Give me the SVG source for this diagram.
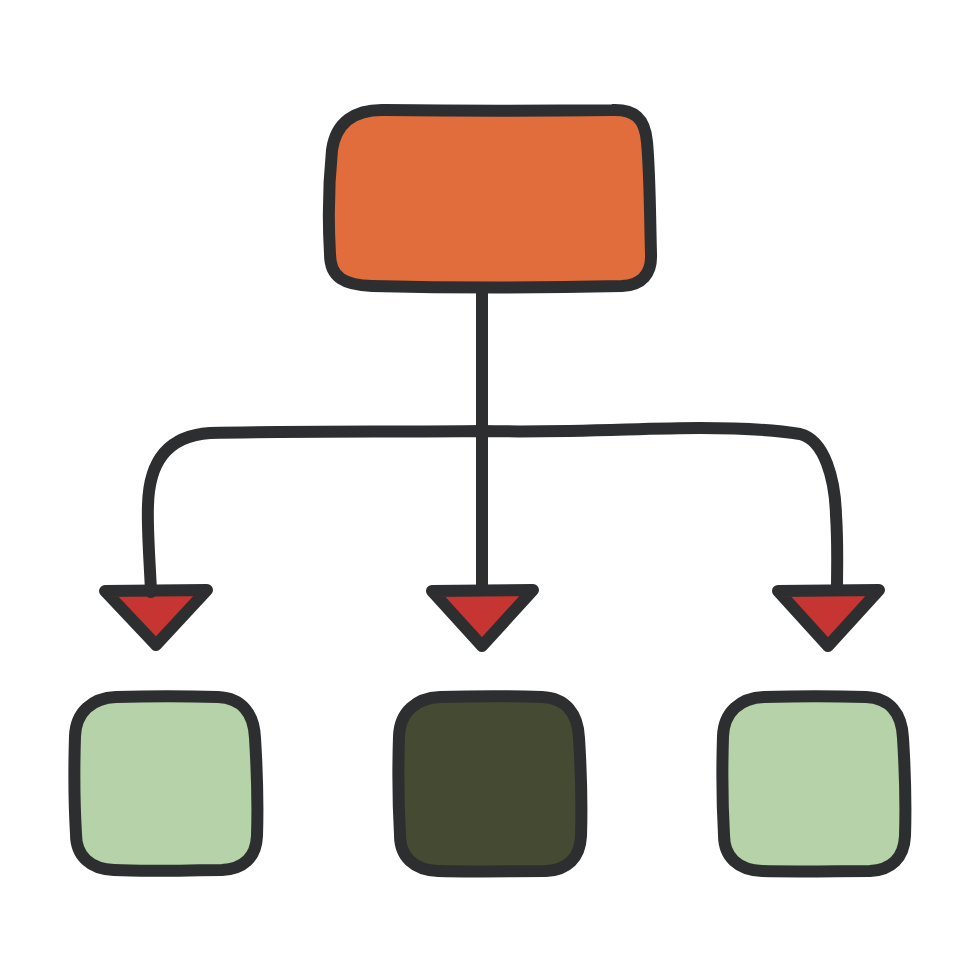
<svg xmlns="http://www.w3.org/2000/svg" width="980" height="980" viewBox="0 0 980 980">
<style>
.o{stroke:#2d2e30;stroke-width:12;stroke-linejoin:round;stroke-linecap:round}
.c{fill:none;stroke:#2d2e30;stroke-width:12;stroke-linecap:round;stroke-linejoin:round}
.a{fill:#c73532}
</style>
<rect width="980" height="980" fill="#fff"/>
<g id="root"><path class="o" fill="#e06d3b" d="M385 110C460 111 540 111 612 110C634 109 645 118 647 142C650 175 650 220 651 254C652 274 642 285 622 286C540 288 450 288 372 286C345 285 330 278 330 254C328 220 329 180 332 150C336 122 355 109 385 110Z"/></g>
<g id="arrow-left"><path class="o a" d="M105 591L207 590L156 645Z"/></g>
<g id="arrow-center"><path class="o a" d="M432 591L533 590L482 646Z"/></g>
<g id="arrow-right"><path class="o a" d="M778 591L879 590L828 646Z"/></g>
<g id="box-left"><path class="o" fill="#b5d2a8" d="M116 697C150 696 185 696 218 697C242 698 254 714 255 738C257 770 258 805 257 836C256 858 243 869 222 870C190 870 150 872 114 870C90 869 76 856 76 834C74 800 74 768 75 736C76 712 92 698 116 697Z"/></g>
<g id="box-center"><path class="o" fill="#454b33" d="M440 697C475 696 510 696 542 697C566 698 578 714 579 738C581 770 582 805 581 836C580 858 567 870 546 871C514 871 474 872 438 871C414 870 400 857 400 835C398 800 398 768 399 736C400 712 416 698 440 697Z"/></g>
<g id="box-right"><path class="o" fill="#b5d2a8" d="M764 697C798 696 834 696 866 697C890 698 902 714 903 738C905 770 906 805 905 836C904 858 891 870 870 871C838 871 798 872 762 871C738 870 724 857 724 835C722 800 722 768 723 736C724 712 740 698 764 697Z"/></g>
<g id="connectors">
<path class="c" d="M482 290V589"/>
<path class="c" d="M151 592C150 565 147 530 148 505C149 465 165 436 210 433C290 431 400 432 482 431C570 433 640 428 700 428C740 428 775 430 800 434C825 440 835 480 836 515C838 545 837 565 837 589"/>
</g>
</svg>
